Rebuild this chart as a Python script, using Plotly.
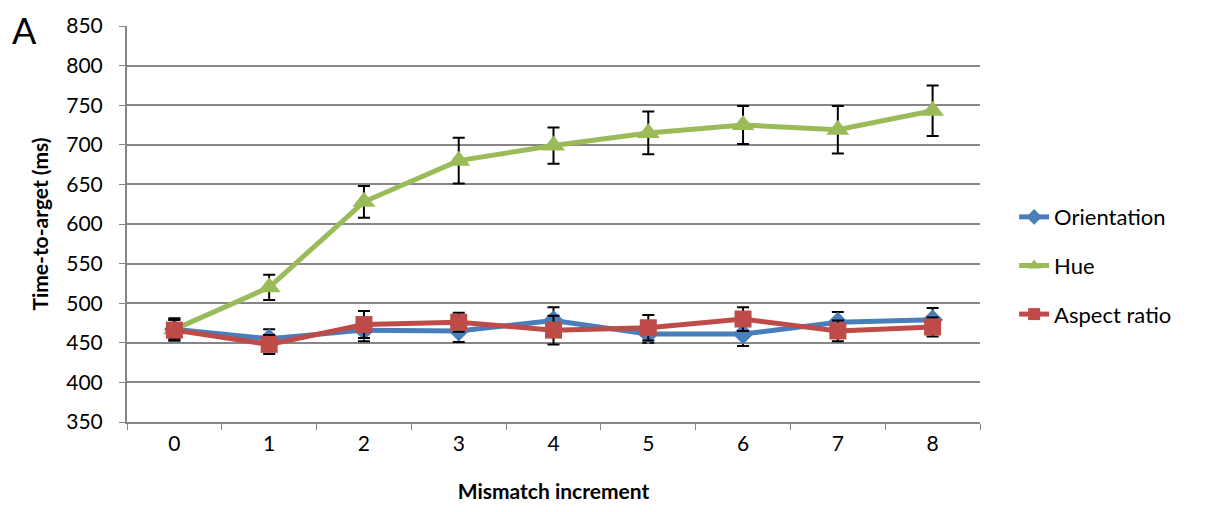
import plotly.graph_objects as go

categories = ["0", "1", "2", "3", "4", "5", "6", "7", "8"]
orientation = [467, 455, 466, 465, 478, 461, 461, 476, 479]
orientation_err = [14, 12, 14, 14, 17, 11, 15, 13, 15]
hue = [467, 520, 628, 680, 699, 715, 725, 719, 743]
hue_err = [12, 16, 20, 29, 23, 27, 24, 30, 32]
aspect = [466, 448, 473, 476, 466, 469, 480, 465, 470]
aspect_err = [13, 12, 17, 12, 18, 16, 15, 13, 12]

font_family = "Lato, 'Open Sans', sans-serif"

fig = go.Figure()

def add(name, y, err, color, symbol, size):
    fig.add_trace(go.Scatter(
        x=categories, y=y, name=name, mode="lines+markers",
        legendgroup=name,
        line=dict(color=color, width=5),
        marker=dict(symbol=symbol, size=size, color=color),
        error_y=dict(type="data", array=err, color="black", thickness=2, width=6),
    ))

add("Orientation", orientation, orientation_err, "#4A7EBB", "diamond", 16)
add("Hue", hue, hue_err, "#9BBB59", "triangle-up", 20)
add("Aspect ratio", aspect, aspect_err, "#BE4B48", "square", 17)

fig.update_layout(
    width=1215, height=512,
    margin=dict(l=127, r=235, t=20, b=87),
    plot_bgcolor="white", paper_bgcolor="white",
    font=dict(family=font_family, size=21, color="black"),
    legend=dict(x=1.04, y=0.395, yanchor="middle", xanchor="left",
                font=dict(size=22), tracegroupgap=17, itemsizing="constant"),
    annotations=[dict(text="A", xref="paper", yref="paper", x=-0.12, y=0.99,
                      xanchor="center", yanchor="middle",
                      showarrow=False, font=dict(size=36, family=font_family))],
)

fig.update_xaxes(
    type="category", categoryorder="array", categoryarray=categories,
    tickson="boundaries", ticks="outside", ticklen=6, tickcolor="#868686",
    showline=True, linecolor="#868686", linewidth=2, showgrid=False,
    ticklabelstandoff=2,
    title=dict(text="<b>Mismatch increment</b>", font=dict(size=21), standoff=30),
    range=[-0.5, 8.5],
)
fig.update_yaxes(
    range=[350, 850], dtick=50, tick0=350,
    ticks="outside", ticklen=6, tickcolor="#868686",
    showline=True, linecolor="#868686", linewidth=2,
    showgrid=True, gridcolor="#868686", gridwidth=1.5,
    ticklabelstandoff=12,
    title=dict(text="<b>Time-to-arget (ms)</b>", font=dict(size=21), standoff=12),
    zeroline=False,
)

fig.write_html("out.html")
